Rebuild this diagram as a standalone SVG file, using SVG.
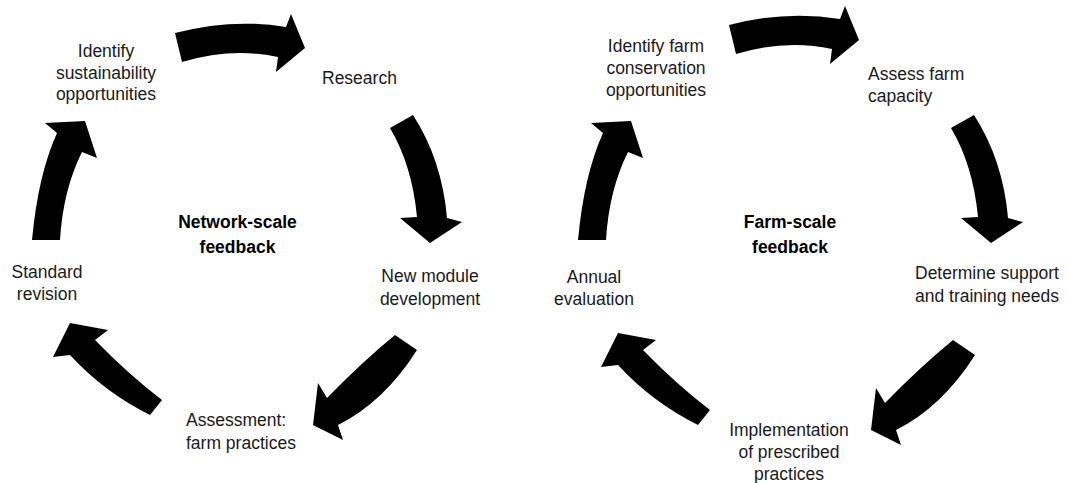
<svg xmlns="http://www.w3.org/2000/svg" xmlns:xlink="http://www.w3.org/1999/xlink" width="1069" height="483" viewBox="0 0 1069 483">
<style>
.t{font-family:"Liberation Sans",Arial,sans-serif;font-size:17.5px;fill:#1a1a1a;}
.c{text-anchor:middle;}
.b{font-weight:bold;fill:#000;}
.arr{fill:#000;}
</style>
<defs>
<path id="a1" class="arr" d="M175,33 Q232,18 286,27 L291,14 L305,48 L276,72 L278,57 Q232,47 182,62 Z"/>
<path id="a2" class="arr" d="M413,115 Q442,160 447,218 L462,222 L430,243 L400,218 L417,217 Q412,165 390,128 Z"/>
<path id="a3" class="arr" d="M395,335 Q362,362 327,398 L318,383 L313,425 L343,440 L338,425 Q384,402 417,350 Z"/>
<path id="a4" class="arr" d="M162,400 Q128,374 95,340 L108,330 L70,323 L53,357 L70,355 Q104,392 150,415 Z"/>
<path id="a5" class="arr" d="M32,240 Q38,175 57,133 L45,123 L85,121 L97,158 L82,152 Q63,190 60,240 Z"/>
</defs>
<rect width="1069" height="483" fill="#fff"/>
<g id="connectors">
<use xlink:href="#a1" href="#a1"/>
<use xlink:href="#a2" href="#a2"/>
<use xlink:href="#a3" href="#a3"/>
<use xlink:href="#a4" href="#a4"/>
<use xlink:href="#a5" href="#a5"/>
<use xlink:href="#a1" href="#a1" transform="translate(554,-8)"/>
<use xlink:href="#a2" href="#a2" transform="translate(561,0)"/>
<use xlink:href="#a3" href="#a3" transform="translate(558,5)"/>
<use xlink:href="#a4" href="#a4" transform="translate(548,10)"/>
<use xlink:href="#a5" href="#a5" transform="translate(546,0)"/>
</g>
<g id="n-identify-sust"><text class="t c" x="106" y="57"><tspan x="106">Identify</tspan><tspan x="106" dy="21.5">sustainability</tspan><tspan x="106" dy="21.5">opportunities</tspan></text></g>
<g id="n-research"><text class="t" x="322" y="84">Research</text></g>
<g id="n-new-module"><text class="t c" x="430" y="282"><tspan x="430">New module</tspan><tspan x="430" dy="22.5">development</tspan></text></g>
<g id="n-assessment"><text class="t" x="186" y="426"><tspan x="186">Assessment:</tspan><tspan x="186" dy="22.5">farm practices</tspan></text></g>
<g id="n-standard"><text class="t c" x="47" y="278"><tspan x="47">Standard</tspan><tspan x="47" dy="22">revision</tspan></text></g>
<g id="n-network"><text class="t c b" x="237.5" y="228"><tspan x="237.5">Network-scale</tspan><tspan x="237.5" dy="25">feedback</tspan></text></g>
<g id="n-identify-farm"><text class="t c" x="656" y="52"><tspan x="656">Identify farm</tspan><tspan x="656" dy="22">conservation</tspan><tspan x="656" dy="22">opportunities</tspan></text></g>
<g id="n-assess-farm"><text class="t" x="868" y="80"><tspan x="868">Assess farm</tspan><tspan x="868" dy="22">capacity</tspan></text></g>
<g id="n-determine"><text class="t" x="915" y="279"><tspan x="915">Determine support</tspan><tspan x="915" dy="23">and training needs</tspan></text></g>
<g id="n-implementation"><text class="t c" x="789" y="436"><tspan x="789">Implementation</tspan><tspan x="789" dy="22">of prescribed</tspan><tspan x="789" dy="22">practices</tspan></text></g>
<g id="n-annual"><text class="t c" x="594" y="283"><tspan x="594">Annual</tspan><tspan x="594" dy="22">evaluation</tspan></text></g>
<g id="n-farm"><text class="t c b" x="790" y="228"><tspan x="790">Farm-scale</tspan><tspan x="790" dy="25">feedback</tspan></text></g>
</svg>
